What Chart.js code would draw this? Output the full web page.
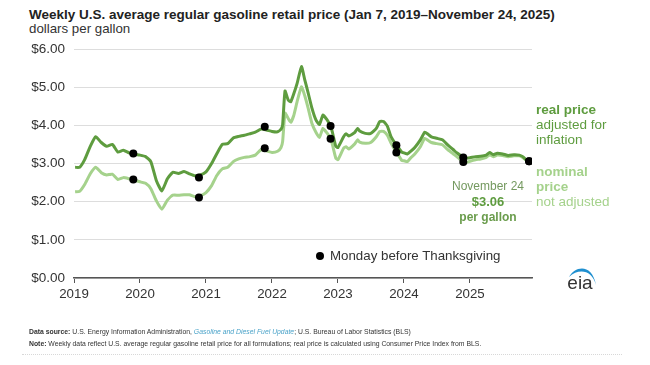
<!DOCTYPE html>
<html>
<head>
<meta charset="utf-8">
<script src="https://cdn.jsdelivr.net/npm/chart.js@4.4.1/dist/chart.umd.min.js"></script>
<style>
  body { margin: 0; width: 650px; height: 365px; background: #fff; position: relative; overflow: hidden; font-family: 'Liberation Sans', Arial, sans-serif; }
  .t { position: absolute; white-space: nowrap; }
  #wrap { position: absolute; left: 0; top: 0; width: 650px; height: 365px; }
  .real { color: #5e9c3f; }
  .nom { color: #a5d28c; }
  .foot { font-size: 7.6px; color: #333; transform: scaleX(0.9); transform-origin: left center; }
</style>
</head>
<body>
<div class="t" style="left:29px;top:7px;font-weight:bold;font-size:13.5px;line-height:16px;color:#222;">Weekly U.S. average regular gasoline retail price (Jan 7, 2019–November 24, 2025)</div>
<div class="t" style="left:29px;top:21px;font-size:13.3px;line-height:16px;color:#333;">dollars per gallon</div>

<div id="wrap"><canvas id="gasChart"></canvas></div>

<!-- right-hand series labels -->
<div class="t real" style="left:536px;top:102px;font-size:13.5px;line-height:15px;"><b>real price</b><br>adjusted for<br>inflation</div>
<div class="t nom" style="left:536px;top:164px;font-size:13.5px;line-height:15px;"><b>nominal</b><br><b>price</b><br>not adjusted</div>

<!-- last value callout -->
<div class="t" style="left:438px;top:179px;width:100px;text-align:center;font-size:12px;line-height:15px;color:#74995f;">November 24<br><b style="font-size:13px;color:#5e9c3f;">$3.06</b><br><b style="color:#6a9c4c;">per gallon</b></div>

<!-- legend -->
<div class="t" style="left:316px;top:252px;width:8px;height:8px;border-radius:50%;background:#000;"></div>
<div class="t" style="left:330px;top:248px;font-size:13.3px;line-height:16px;color:#333;">Monday before Thanksgiving</div>

<!-- eia logo -->
<svg class="t" style="left:560px;top:260px;" width="44" height="34" viewBox="560 260 44 34">
  <path d="M569,277 C575,266 592,263 596,285 C592,270 579,268 569,277 Z" fill="#1f8fcf"/>
  <text x="580" y="289" text-anchor="middle" font-family="Liberation Sans, Arial" font-size="19" fill="#333">eia</text>
</svg>

<div class="t foot" style="left:29px;top:327px;"><b>Data source:</b> U.S. Energy Information Administration, <i style="color:#4ba3c9;">Gasoline and Diesel Fuel Update</i>; U.S. Bureau of Labor Statistics (BLS)</div>
<div class="t foot" style="left:29px;top:339px;"><b>Note:</b> Weekly data reflect U.S. average regular gasoline retail price for all formulations; real price is calculated using Consumer Price Index from BLS.</div>
<div class="t" style="left:22px;top:354px;width:600px;border-top:1px dotted #d8d8d8;"></div>

<script>
// dates of the sampled points (Jan 7, 2019 – Nov 24, 2025)
const dates = [
  '2019-01-07','2019-02-01','2019-03-01','2019-04-01','2019-05-01','2019-06-01','2019-07-01','2019-08-01','2019-09-01','2019-10-01','2019-11-01','2019-12-01',
  '2020-01-01','2020-02-01','2020-03-01','2020-04-01','2020-05-01','2020-06-01','2020-07-01','2020-08-01','2020-09-01','2020-10-01','2020-11-01','2020-12-01',
  '2021-01-01','2021-02-01','2021-03-01','2021-04-01','2021-05-01','2021-06-01','2021-07-01','2021-08-01','2021-09-01','2021-10-01','2021-11-01','2021-12-01',
  '2022-01-01','2022-02-01','2022-02-20','2022-03-01','2022-03-14','2022-04-01','2022-04-15','2022-05-01','2022-05-20','2022-06-13','2022-07-01','2022-07-20','2022-08-10','2022-09-01','2022-09-20','2022-10-10','2022-11-01','2022-11-21','2022-12-01','2022-12-20',
  '2023-01-01','2023-02-01','2023-02-15','2023-03-01','2023-04-01','2023-04-20','2023-05-01','2023-06-01','2023-07-01','2023-08-01','2023-08-20','2023-09-10','2023-10-01','2023-10-20','2023-11-20','2023-12-01','2023-12-20',
  '2024-01-01','2024-01-20','2024-02-10','2024-03-01','2024-04-01','2024-04-25','2024-05-15','2024-06-01','2024-07-01','2024-08-01','2024-09-01','2024-10-01','2024-10-20','2024-11-25','2024-12-15',
  '2025-01-01','2025-02-01','2025-03-01','2025-04-01','2025-04-20','2025-05-10','2025-06-01','2025-07-01','2025-08-01','2025-09-01','2025-10-01','2025-10-20','2025-11-10','2025-11-24'
];

// real price, adjusted for inflation
const realPrice = [
  2.90, 2.90, 3.10, 3.45, 3.70, 3.55, 3.45, 3.50, 3.30, 3.35, 3.28, 3.24,
  3.22, 3.18, 3.05, 2.55, 2.28, 2.60, 2.77, 2.74, 2.79, 2.73, 2.68, 2.70,
  2.78, 3.00, 3.25, 3.50, 3.52, 3.67, 3.71, 3.74, 3.78, 3.82, 3.90, 3.88,
  3.84, 3.83, 3.90, 4.02, 4.90, 4.66, 4.62, 4.82, 5.10, 5.54, 5.20, 4.85, 4.45, 4.14, 4.02, 4.27, 4.15, 3.98, 3.82, 3.45,
  3.42, 3.70, 3.78, 3.72, 3.80, 3.92, 3.85, 3.79, 3.79, 3.92, 4.10, 4.10, 3.98, 3.72, 3.48, 3.42, 3.30,
  3.28, 3.25, 3.33, 3.42, 3.62, 3.82, 3.76, 3.70, 3.66, 3.62, 3.48, 3.36, 3.28, 3.16, 3.14,
  3.15, 3.18, 3.19, 3.22, 3.29, 3.23, 3.27, 3.25, 3.21, 3.23, 3.22, 3.18, 3.09, 3.07
];

// nominal price, not adjusted
const nominalPrice = [
  2.26, 2.27, 2.45, 2.73, 2.90, 2.76, 2.70, 2.72, 2.58, 2.63, 2.60, 2.56,
  2.52, 2.48, 2.34, 2.02, 1.80, 2.04, 2.17, 2.17, 2.18, 2.18, 2.13, 2.16,
  2.24, 2.42, 2.68, 2.86, 2.90, 3.05, 3.12, 3.16, 3.18, 3.22, 3.36, 3.33,
  3.29, 3.32, 3.42, 3.58, 4.32, 4.18, 4.08, 4.25, 4.62, 5.01, 4.78, 4.45, 4.05, 3.82, 3.68, 3.92, 3.80, 3.65, 3.50, 3.14,
  3.10, 3.40, 3.44, 3.38, 3.50, 3.62, 3.56, 3.53, 3.55, 3.70, 3.84, 3.84, 3.74, 3.55, 3.29, 3.22, 3.08,
  3.07, 3.05, 3.16, 3.25, 3.44, 3.66, 3.60, 3.55, 3.52, 3.49, 3.36, 3.25, 3.18, 3.04, 3.03,
  3.06, 3.10, 3.12, 3.16, 3.23, 3.18, 3.22, 3.21, 3.18, 3.20, 3.20, 3.16, 3.08, 3.06
];

// Monday before Thanksgiving
const thanksgivingDates = ['2019-11-25','2020-11-23','2021-11-22','2022-11-21','2023-11-20','2024-11-25','2025-11-24'];
const thanksgivingReal = [3.26, 2.63, 3.96, 3.98, 3.48, 3.16, 3.06];
const thanksgivingNominal = [2.58, 2.11, 3.40, 3.65, 3.29, 3.04, 3.06];

const yearTicks = [2019, 2020, 2021, 2022, 2023, 2024, 2025];
const priceTicks = [0, 1, 2, 3, 4, 5, 6];

// date string -> decimal year, for the linear x scale
function toYear(s) {
    const d = new Date(s + 'T00:00:00Z');
    const y = d.getUTCFullYear();
    const start = Date.UTC(y, 0, 1), end = Date.UTC(y + 1, 0, 1);
    return y + (d - start) / (end - start);
}

const pts = (ds, vs) => ds.map((d, i) => ({ x: toYear(d), y: vs[i] }));

const dots = pts(thanksgivingDates, thanksgivingReal).concat(pts(thanksgivingDates, thanksgivingNominal));

const ctx = document.getElementById('gasChart').getContext('2d');

new Chart(ctx, {
    type: 'line',
    data: {
        datasets: [
            {
                label: 'Monday before Thanksgiving',
                data: dots,
                showLine: false,
                pointRadius: 4,
                pointBackgroundColor: '#000',
                pointBorderWidth: 0,
                order: 0
            },
            {
                label: 'real price',
                data: pts(dates, realPrice),
                borderColor: '#5e9c3f',
                borderWidth: 3,
                pointRadius: 0,
                tension: 0.15,
                borderJoinStyle: 'round',
                order: 1
            },
            {
                label: 'nominal price',
                data: pts(dates, nominalPrice),
                borderColor: '#a5d28c',
                borderWidth: 3,
                pointRadius: 0,
                tension: 0.15,
                borderJoinStyle: 'round',
                order: 2
            }
        ]
    },
    options: {
        responsive: true,
        maintainAspectRatio: false,
        animation: false,
        layout: { padding: { left: 0, top: 49, right: 118, bottom: 57 } },
        plugins: {
            legend: { display: false },
            tooltip: { enabled: false }
        },
        scales: {
            x: {
                type: 'linear',
                min: 2019,
                max: 2025.94,
                afterBuildTicks: (axis) => { axis.ticks = yearTicks.map(v => ({ value: v })); },
                afterFit: (axis) => { axis.height = 30; },
                grid: { drawOnChartArea: false, drawTicks: true, tickLength: 5, color: '#555', lineWidth: 1 },
                border: { display: true, color: '#555', width: 1.5 },
                ticks: {
                    color: '#333',
                    padding: 3,
                    font: { family: 'Liberation Sans', size: 13.3 },
                    callback: (v) => String(v)
                }
            },
            y: {
                min: 0,
                max: 6,
                afterBuildTicks: (axis) => { axis.ticks = priceTicks.map(v => ({ value: v })); },
                afterFit: (axis) => { axis.width = 74; },
                grid: { color: '#dddddd', lineWidth: 1, drawTicks: false },
                border: { display: false },
                ticks: {
                    color: '#333',
                    padding: 9,
                    font: { family: 'Liberation Sans', size: 13.5 },
                    callback: (v) => '$' + v.toFixed(2)
                }
            }
        }
    }
});
</script>
</body>
</html>
